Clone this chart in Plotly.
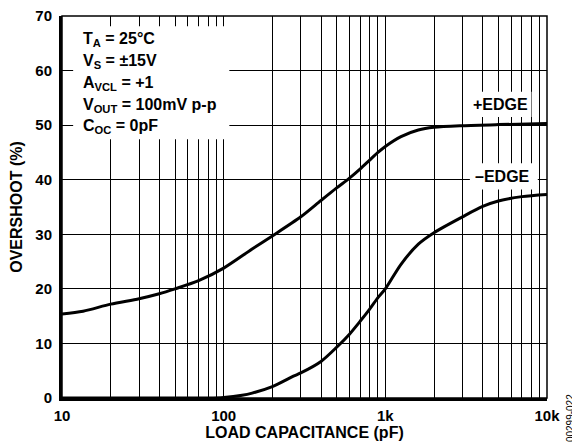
import plotly.graph_objects as go

# ---- data ----
cap_pos = [10, 13.5, 20, 30, 40, 50, 70, 100, 150, 200, 300, 400, 500, 600, 700, 800,
           900, 1000, 1250, 1600, 2000, 3000, 5000, 10000]
overshoot_pos = [15.4, 15.9, 17.2, 18.2, 19.1, 20.0, 21.5, 23.8, 27.3, 29.7, 33.2, 36.2, 38.5,
                 40.3, 42.0, 43.6, 45.0, 46.1, 47.9, 49.1, 49.6, 49.9, 50.1, 50.3]

cap_neg = [10, 50, 80, 100, 130, 150, 200, 270, 300, 400, 500, 600, 700, 800, 900, 1000,
           1250, 1600, 2000, 3000, 4000, 5000, 7000, 10000]
overshoot_neg = [0, 0, 0, 0.1, 0.5, 0.9, 2.1, 4.0, 4.6, 6.7, 9.3, 11.7, 14.1, 16.3, 18.4, 20.0,
                 24.5, 28.2, 30.3, 33.2, 35.1, 36.1, 36.9, 37.3]

x_tickvals = [10, 20, 30, 40, 50, 60, 70, 80, 90,
              100, 200, 300, 400, 500, 600, 700, 800, 900,
              1000, 2000, 3000, 4000, 5000, 6000, 7000, 8000, 9000, 10000]
x_ticktext = ["10", "", "", "", "", "", "", "", "",
              "100", "", "", "", "", "", "", "", "",
              "1k", "", "", "", "", "", "", "", "", "10k"]

cond_lines = ["T<sub>A</sub> = 25°C", "V<sub>S</sub> = ±15V", "A<sub>VCL</sub> = +1",
              "V<sub>OUT</sub> = 100mV p-p", "C<sub>OC</sub> = 0pF"]
cond_y = [65.7, 61.65, 57.6, 53.55, 49.7]

FONT = "Liberation Sans, Arial, sans-serif"
BIG = dict(family=FONT, size=16, color="black", weight="bold")
TICK = dict(family=FONT, size=15, color="black", weight="bold")

fig = go.Figure()
fig.add_trace(go.Scatter(x=cap_pos, y=overshoot_pos, mode="lines",
                         line=dict(color="black", width=3, shape="spline", smoothing=0.8),
                         showlegend=False, hoverinfo="skip"))
fig.add_trace(go.Scatter(x=cap_neg, y=overshoot_neg, mode="lines",
                         line=dict(color="black", width=3, shape="spline", smoothing=0.8),
                         showlegend=False, hoverinfo="skip"))

# white patches that interrupt the grid behind the texts
for x0, x1, y0, y1 in [(0.023, 0.345, 47.4, 68.1),
                       (0.838, 0.968, 51.5, 56.1),
                       (0.841, 0.981, 38.2, 43.0)]:
    fig.add_shape(type="rect", xref="paper", yref="y", x0=x0, x1=x1, y0=y0, y1=y1,
                  fillcolor="white", line=dict(width=0), layer="above")
# outer frame (top/right thinner)
fig.add_shape(type="rect", xref="paper", yref="paper", x0=0, x1=1, y0=0, y1=1,
              line=dict(color="black", width=1.5), layer="above")

for txt, yy in zip(cond_lines, cond_y):
    fig.add_annotation(x=0.04, xref="paper", y=yy, yref="y", text=txt, showarrow=False,
                       xanchor="left", yanchor="middle", font=BIG)

fig.add_annotation(x=0.9036, xref="paper", y=53.8, yref="y", text="+EDGE", showarrow=False,
                   xanchor="center", yanchor="middle", font=BIG)
fig.add_annotation(x=0.908, xref="paper", y=40.6, yref="y", text="–EDGE", showarrow=False,
                   xanchor="center", yanchor="middle", font=BIG)
fig.add_annotation(x=1.05, xref="paper", y=-0.052, yref="paper",
                   text="00299-022", showarrow=False, textangle=-90,
                   xanchor="center", yanchor="middle",
                   font=dict(family=FONT, size=10, color="black", weight="normal"))

# the page body adds an 8px offset, so the figure is 572x436
fig.update_layout(
    width=572, height=436,
    margin=dict(l=54, r=33, t=8, b=46, autoexpand=False),
    paper_bgcolor="white", plot_bgcolor="white",
    font=dict(family=FONT, size=15, color="black", weight="bold"),
    xaxis=dict(type="log", range=[1, 4], tickvals=x_tickvals, ticktext=x_ticktext,
               showgrid=True, gridcolor="black", gridwidth=1,
               showline=True, linecolor="black", linewidth=3, ticks="",
               ticklabelstandoff=2, zeroline=False, automargin=False,
               ticklabeloverflow="allow",
               title=dict(text="LOAD CAPACITANCE (pF)", standoff=4, font=BIG),
               tickfont=TICK),
    yaxis=dict(range=[0, 70], dtick=10, showgrid=True, gridcolor="black", gridwidth=1,
               showline=True, linecolor="black", linewidth=3, ticks="", zeroline=False,
               ticklabelstandoff=4, automargin=False, ticklabeloverflow="allow",
               title=dict(text="OVERSHOOT (%)", standoff=9, font=BIG),
               tickfont=TICK),
)

fig.write_html("out.html")
